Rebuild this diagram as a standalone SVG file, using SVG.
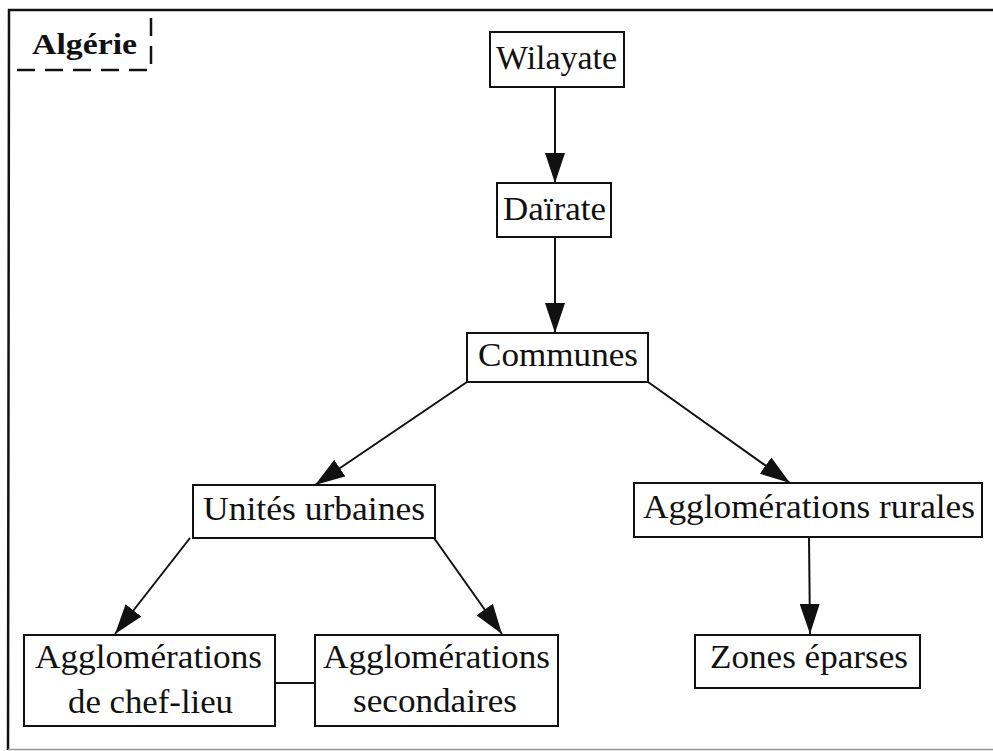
<svg xmlns="http://www.w3.org/2000/svg" width="993" height="751" viewBox="0 0 993 751">
<style>
.box{fill:#fff;stroke:#111;stroke-width:2}
.t{font-family:"Liberation Serif","DejaVu Serif",serif;font-size:34px;fill:#111;text-anchor:middle}
.edge{stroke:#111;stroke-width:2;fill:none}
.frame{stroke:#111;stroke-width:2.5;fill:none}
</style>
<defs>
<marker id="ah" markerUnits="userSpaceOnUse" markerWidth="30" markerHeight="20" refX="30" refY="10" viewBox="0 0 30 20" orient="auto">
<path d="M0,0 L30,10 L0,20 Z" fill="#111"/>
</marker>
</defs>
<rect width="993" height="751" fill="#fff"/>
<path class="frame" d="M993,10 L9,10 L8,750"/>
<path d="M8,749.5 H993" stroke="#999" stroke-width="1.5" fill="none"/>
<g id="algerie">
<path d="M151,18 V70 H12" stroke="#111" stroke-width="2.5" fill="none" stroke-dasharray="18 10"/>
<text x="32" y="54" font-family="Liberation Serif, DejaVu Serif, serif" font-size="30" font-weight="bold" fill="#111" textLength="105" lengthAdjust="spacingAndGlyphs">Algérie</text>
</g>
<g id="connectors">
<line class="edge" x1="555" y1="87" x2="555" y2="183" marker-end="url(#ah)"/>
<line class="edge" x1="555" y1="237" x2="555" y2="333" marker-end="url(#ah)"/>
<line class="edge" x1="467" y1="382" x2="315" y2="485" marker-end="url(#ah)"/>
<line class="edge" x1="648" y1="382" x2="790" y2="483" marker-end="url(#ah)"/>
<line class="edge" x1="190" y1="538" x2="115" y2="634" marker-end="url(#ah)"/>
<line class="edge" x1="434" y1="538" x2="502" y2="634" marker-end="url(#ah)"/>
<line class="edge" x1="809" y1="537" x2="810" y2="634" marker-end="url(#ah)"/>
<line class="edge" x1="275" y1="683" x2="315" y2="683"/>
</g>
<g id="wilayate">
<rect class="box" x="490" y="32" width="134" height="55"/>
<text class="t" x="556.5" y="69" textLength="121" lengthAdjust="spacingAndGlyphs">Wilayate</text>
</g>
<g id="dairate">
<rect class="box" x="497" y="183" width="114" height="54"/>
<text class="t" x="554.5" y="220" textLength="103" lengthAdjust="spacingAndGlyphs">Daïrate</text>
</g>
<g id="communes">
<rect class="box" x="467" y="333" width="181" height="49"/>
<text class="t" x="558" y="366" textLength="160" lengthAdjust="spacingAndGlyphs">Communes</text>
</g>
<g id="unites">
<rect class="box" x="193" y="485" width="242" height="53"/>
<text class="t" x="314" y="520" textLength="222" lengthAdjust="spacingAndGlyphs">Unités urbaines</text>
</g>
<g id="rurales">
<rect class="box" x="634" y="483" width="348" height="54"/>
<text class="t" x="809" y="518" textLength="332" lengthAdjust="spacingAndGlyphs">Agglomérations rurales</text>
</g>
<g id="zones">
<rect class="box" x="695" y="635" width="225" height="53"/>
<text class="t" x="809" y="668" textLength="198" lengthAdjust="spacingAndGlyphs">Zones éparses</text>
</g>
<g id="cheflieu">
<rect class="box" x="24" y="635" width="251" height="91"/>
<text class="t" x="148.5" y="668" textLength="227" lengthAdjust="spacingAndGlyphs">Agglomérations</text>
<text class="t" x="150.5" y="713" textLength="165" lengthAdjust="spacingAndGlyphs">de chef-lieu</text>
</g>
<g id="secondaires">
<rect class="box" x="315" y="635" width="243" height="91"/>
<text class="t" x="436.5" y="668" textLength="227" lengthAdjust="spacingAndGlyphs">Agglomérations</text>
<text class="t" x="435" y="712" textLength="164" lengthAdjust="spacingAndGlyphs">secondaires</text>
</g>
</svg>
